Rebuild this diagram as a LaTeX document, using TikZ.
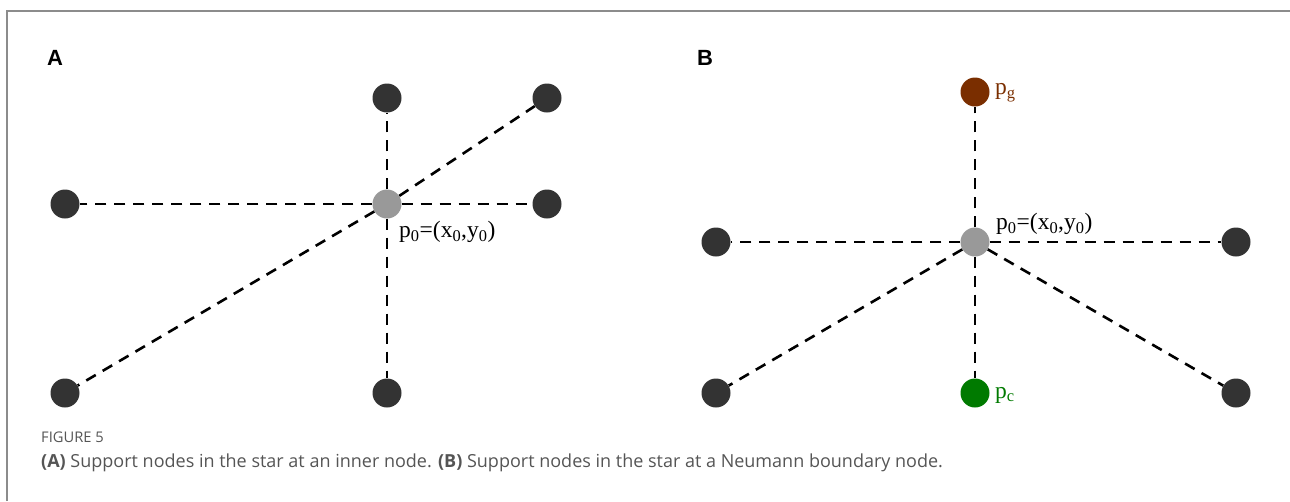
\documentclass[tikz,border=0pt]{standalone}
\usepackage{fontspec}
\setmainfont{Liberation Serif}
\newfontfamily\capfont{Open Sans}
\newfontfamily\panelfont{Liberation Sans}
\definecolor{outer}{HTML}{333333}
\definecolor{center}{HTML}{999999}
\definecolor{ghost}{HTML}{7A2E00}
\definecolor{neumann}{HTML}{007A00}
\definecolor{framegray}{HTML}{8C8C8C}
\definecolor{captext}{HTML}{555555}
\begin{document}
\begin{tikzpicture}[x=1pt, y=-1pt, support/.style={circle, fill=outer, minimum size=29pt, inner sep=0pt}, link/.style={dash pattern=on 11pt off 8pt, line width=2.6pt}, lbl/.style={anchor=west, inner sep=0pt, font=\fontsize{23.5}{23.5}\selectfont}]
    \useasboundingbox (0,0) rectangle (1290,501);
    \draw[framegray, line width=2pt] (7,501) -- (7,11) -- (1290,11);

        % Panel A.
        \node[font=\panelfont\bfseries\fontsize{22}{22}\selectfont] (A) at (55,58) {A};
        \node[support, fill=center] (A-0) at (387,204) {};
        \node[support] (A-1) at (387,98) {};
        \node[support] (A-2) at (547,98) {};
        \node[support] (A-3) at (547,204) {};
        \node[support] (A-4) at (387,393) {};
        \node[support] (A-5) at (65,393) {};
        \node[support] (A-6) at (65,204) {};
        \node[lbl] (A-p) at (399,232) {p\textsubscript{0}=(x\textsubscript{0},y\textsubscript{0})};

        \foreach \dest in {1,...,6}
            \draw[link] (A-0) -- (A-\dest);

        % Panel B.
        \node[font=\panelfont\bfseries\fontsize{22}{22}\selectfont] (B) at (705,58) {B};
        \node[support, fill=center] (B-0) at (975,242) {};
        \node[support, fill=ghost] (B-1) at (975,92) {};
        \node[support] (B-2) at (1236,242) {};
        \node[support] (B-3) at (1236,393) {};
        \node[support, fill=neumann] (B-4) at (975,393) {};
        \node[support] (B-5) at (716,393) {};
        \node[support] (B-6) at (716,242) {};
        \node[lbl] (B-p) at (996,224) {p\textsubscript{0}=(x\textsubscript{0},y\textsubscript{0})};
        \node[lbl, text=ghost] (B-g) at (995,93) {p\textsubscript{g}};
        \node[lbl, text=neumann] (B-c) at (995,395) {p\textsubscript{c}};

        \foreach \dest in {1,...,6}
            \draw[link] (B-0) -- (B-\dest);

        % Caption.
        \node[anchor=west, inner sep=0pt, text=captext, font=\capfont\fontsize{14.7}{14.7}\selectfont] (fig) at (41,437) {FIGURE 5};
        \node[anchor=west, inner sep=0pt, text=captext, font=\capfont\fontsize{18}{18}\selectfont] (cap) at (41,463) {\textbf{(A)} Support nodes in the star at an inner node. \textbf{(B)} Support nodes in the star at a Neumann boundary node.};

    \end{tikzpicture}
\end{document}
